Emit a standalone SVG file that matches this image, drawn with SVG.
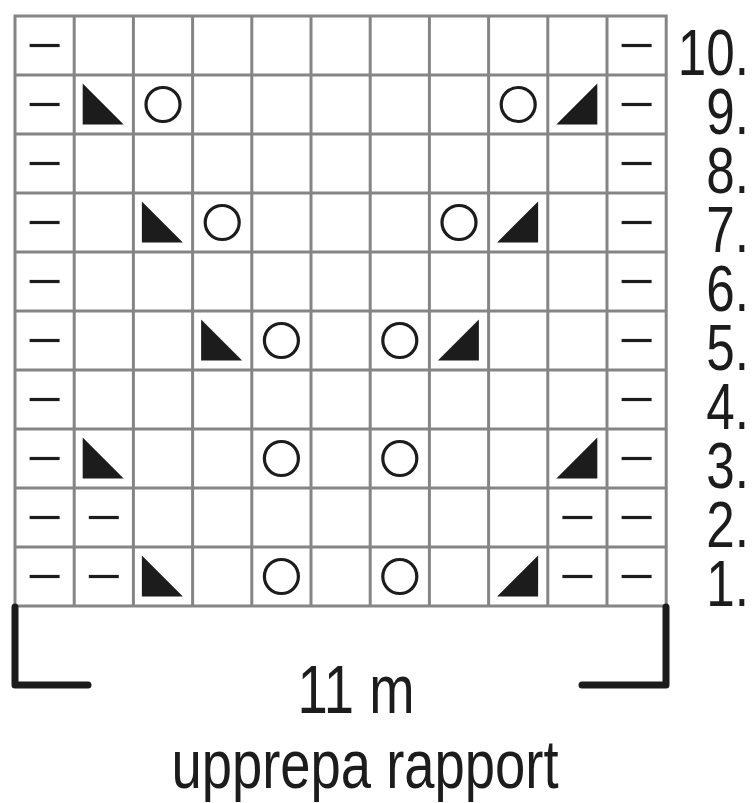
<svg xmlns="http://www.w3.org/2000/svg" xmlns:xlink="http://www.w3.org/1999/xlink" width="752" height="803" viewBox="0 0 752 803">
<style>
.grid{fill:none;stroke:#858585;stroke-width:3}
.sym{stroke:#1c1c1c;stroke-width:3.2;fill:none}
.fillsym{fill:#1c1c1c}
.num{font-family:"Liberation Sans",Arial,sans-serif;font-size:64px;fill:#1c1c1c;text-anchor:end}
.lbl{font-family:"Liberation Sans",Arial,sans-serif;font-size:68px;fill:#1c1c1c;text-anchor:middle}
.brk{fill:none;stroke:#1c1c1c;stroke-width:7;stroke-linecap:round;stroke-linejoin:round}
</style>
<defs>
<g id="dash"><line class="sym" x1="14.6" y1="29.5" x2="44.6" y2="29.5" stroke-width="3.6"/></g>
<g id="circ"><circle class="sym" cx="29.6" cy="29.5" r="17"/></g>
<g id="tl"><polygon class="fillsym" points="8.5,8.5 8.5,49.5 49.5,49.5"/></g>
<g id="tr"><polygon class="fillsym" points="8.5,49.5 49.5,49.5 49.5,8.5"/></g>
</defs>
<rect width="752" height="803" fill="#ffffff"/>
<g id="grid" class="grid">
<rect x="15" y="16" width="651.2" height="590"/>
<path d="M74.2 16V606M133.4 16V606M192.6 16V606M251.8 16V606M311 16V606M370.2 16V606M429.4 16V606M488.6 16V606M547.8 16V606M607 16V606"/>
<path d="M15 75H666.2M15 134H666.2M15 193H666.2M15 252H666.2M15 311H666.2M15 370H666.2M15 429H666.2M15 488H666.2M15 547H666.2"/>
</g>
<g id="row10">
<use xlink:href="#dash" x="15" y="16"/><use xlink:href="#dash" x="607" y="16"/>
</g>
<g id="row9">
<use xlink:href="#dash" x="15" y="75"/><use xlink:href="#tl" x="74.2" y="75"/><use xlink:href="#circ" x="133.4" y="75"/>
<use xlink:href="#circ" x="488.6" y="75"/><use xlink:href="#tr" x="547.8" y="75"/><use xlink:href="#dash" x="607" y="75"/>
</g>
<g id="row8">
<use xlink:href="#dash" x="15" y="134"/><use xlink:href="#dash" x="607" y="134"/>
</g>
<g id="row7">
<use xlink:href="#dash" x="15" y="193"/><use xlink:href="#tl" x="133.4" y="193"/><use xlink:href="#circ" x="192.6" y="193"/>
<use xlink:href="#circ" x="429.4" y="193"/><use xlink:href="#tr" x="488.6" y="193"/><use xlink:href="#dash" x="607" y="193"/>
</g>
<g id="row6">
<use xlink:href="#dash" x="15" y="252"/><use xlink:href="#dash" x="607" y="252"/>
</g>
<g id="row5">
<use xlink:href="#dash" x="15" y="311"/><use xlink:href="#tl" x="192.6" y="311"/><use xlink:href="#circ" x="251.8" y="311"/>
<use xlink:href="#circ" x="370.2" y="311"/><use xlink:href="#tr" x="429.4" y="311"/><use xlink:href="#dash" x="607" y="311"/>
</g>
<g id="row4">
<use xlink:href="#dash" x="15" y="370"/><use xlink:href="#dash" x="607" y="370"/>
</g>
<g id="row3">
<use xlink:href="#dash" x="15" y="429"/><use xlink:href="#tl" x="74.2" y="429"/><use xlink:href="#circ" x="251.8" y="429"/>
<use xlink:href="#circ" x="370.2" y="429"/><use xlink:href="#tr" x="547.8" y="429"/><use xlink:href="#dash" x="607" y="429"/>
</g>
<g id="row2">
<use xlink:href="#dash" x="15" y="488"/><use xlink:href="#dash" x="74.2" y="488"/>
<use xlink:href="#dash" x="547.8" y="488"/><use xlink:href="#dash" x="607" y="488"/>
</g>
<g id="row1">
<use xlink:href="#dash" x="15" y="547"/><use xlink:href="#dash" x="74.2" y="547"/><use xlink:href="#tl" x="133.4" y="547"/>
<use xlink:href="#circ" x="251.8" y="547"/><use xlink:href="#circ" x="370.2" y="547"/><use xlink:href="#tr" x="488.6" y="547"/>
<use xlink:href="#dash" x="547.8" y="547"/><use xlink:href="#dash" x="607" y="547"/>
</g>
<g id="row-numbers">
<text class="num" transform="translate(749,75) scale(0.8,1)">10.</text>
<text class="num" transform="translate(749,134) scale(0.8,1)">9.</text>
<text class="num" transform="translate(749,193) scale(0.8,1)">8.</text>
<text class="num" transform="translate(749,252) scale(0.8,1)">7.</text>
<text class="num" transform="translate(749,311) scale(0.8,1)">6.</text>
<text class="num" transform="translate(749,370) scale(0.8,1)">5.</text>
<text class="num" transform="translate(749,429) scale(0.8,1)">4.</text>
<text class="num" transform="translate(749,488) scale(0.8,1)">3.</text>
<text class="num" transform="translate(749,547) scale(0.8,1)">2.</text>
<text class="num" transform="translate(749,606) scale(0.8,1)">1.</text>
</g>
<g id="bracket">
<path class="brk" d="M15 607V685H88"/>
<path class="brk" d="M666 607V685H582"/>
</g>
<g id="labels">
<text class="lbl" transform="translate(356,713) scale(0.8,1)">11 m</text>
<text class="lbl" transform="translate(365,788) scale(0.8,1)">upprepa rapport</text>
</g>
</svg>
